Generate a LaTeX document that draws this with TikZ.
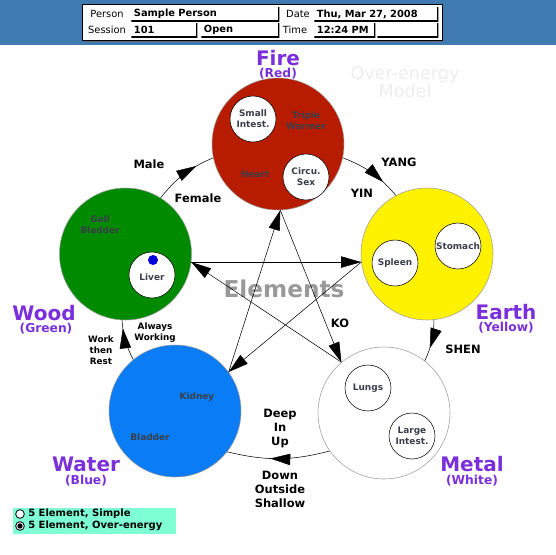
\documentclass[tikz,border=0pt]{standalone}
\usepackage{fontspec}
\setmainfont{DejaVu Sans}
\usepackage{tkz-euclide}
\usetikzlibrary{arrows.meta,decorations.markings}
\definecolor{headblue}{HTML}{3F7BB0}
\definecolor{firered}{HTML}{B81C00}
\definecolor{woodgreen}{HTML}{008A00}
\definecolor{waterblue}{HTML}{0A7CF5}
\definecolor{purpletxt}{HTML}{7A2FDA}
\definecolor{organtxt}{HTML}{3A3E48}
\definecolor{legendbg}{HTML}{7FFFD4}
\tikzset{
  elem/.style={circle,draw=gray!80,minimum size=99pt,inner sep=0pt},
  organ/.style={circle,draw=black,fill=white,minimum size=34.5pt,inner sep=0pt,align=center,
    text=organtxt,font=\bfseries\fontsize{6.7}{8.2}\selectfont},
  organtext/.style={align=center,text=organtxt,font=\bfseries\fontsize{6.7}{8.2}\selectfont},
  elemname/.style={text=purpletxt,font=\bfseries\fontsize{15}{15}\selectfont},
  elemcolor/.style={text=purpletxt,font=\bfseries\fontsize{9.2}{9.2}\selectfont},
  lbl/.style={align=center,font=\bfseries\fontsize{8.6}{10.5}\selectfont},
  smalllbl/.style={align=center,font=\bfseries\fontsize{6.6}{8.2}\selectfont},
  ctrl/.style={-{Triangle[length=15pt,width=8.5pt]}},
  flow/.style={decoration={markings,mark=at position #1 with {\arrow{Triangle[length=15pt,width=8.5pt]}}},
    postaction={decorate}},
  fld/.style={rectangle,fill=white,anchor=north west,minimum height=10.5pt,inner ysep=0pt,inner xsep=2pt,
    align=left,font=\bfseries\fontsize{7.4}{8}\selectfont,
    path picture={\draw[black,line width=1.6pt] (path picture bounding box.south west)
      -- (path picture bounding box.south east) -- (path picture bounding box.north east);}},
  fldname/.style={font=\fontsize{7.4}{8}\selectfont},
  radio/.style={circle,draw=black,fill=white,minimum size=6.5pt,inner sep=0pt,line width=0.6pt}
}
\begin{document}
\begin{tikzpicture}[x=0.75pt,y=-0.75pt]
    \useasboundingbox (0,0) rectangle (556,554);
    \fill[headblue] (0,0) rectangle (556,45);
    \fill[black!60] (85,6) rectangle (443,42);
    \node[draw=black,fill=white,anchor=north west,minimum width=270pt,minimum height=27pt,inner sep=0pt]
      (panel) at (82,4) {};
    \node[fldname] (personlbl) at (107,14) {Person};
    \node[fldname] (sessionlbl) at (107,30) {Session};
    \node[fldname] (datelbl) at (298,14) {Date};
    \node[fldname] (timelbl) at (295,30) {Time};
    \node[fld,text width=107pt] (person) at (131,7) {Sample Person};
    \node[fld,text width=45.5pt] (session) at (131,23) {101};
    \node[fld,text width=54.5pt] (state) at (201,23) {Open};
    \node[fld,text width=89pt] (date) at (314,7) {Thu, Mar 27, 2008};
    \node[fld,text width=41.75pt] (time) at (314,23) {12:24 PM};
    \node[fld,text width=41.75pt] (blank) at (377,23) {};
    \tkzDefPoint(278,144){F}
    \tkzDefPoint(427,254){E}
    \tkzDefPoint(384,413){M}
    \tkzDefPoint(175,411){W}
    \tkzDefPoint(125.5,254){G}
    \node[text=black!7,align=center,font=\fontsize{13.2}{13.5}\selectfont] (model) at (405,82) {Over-energy\\Model};
    \node[elem,fill=firered] (fire) at (F) {};
    \node[elem,fill=yellow] (earth) at (E) {};
    \node[elem,fill=white] (metal) at (M) {};
    \node[elem,fill=waterblue] (water) at (W) {};
    \node[elem,fill=woodgreen] (wood) at (G) {};
    \node[organ] (smallint) at (253,119) {Small\\Intest.};
    \node[organ] (circu) at (306,177) {Circu.\\Sex};
    \node[organtext] (triple) at (306,121) {Triple\\Warmer};
    \node[organtext] (heart) at (255,174) {Heart};
    \node[organ] (stomach) at (458,246) {Stomach};
    \node[organ] (spleen) at (395,263) {Spleen};
    \node[organ] (lungs) at (368,388) {Lungs};
    \node[organ] (largeint) at (412,436) {Large\\Intest.};
    \node[organ] (liver) at (152,275) {\\Liver};
    \node[circle,fill=blue!85!black,minimum size=7.5pt,inner sep=0pt] (dot) at (153,260) {};
    \node[organtext] (gall) at (100,225) {Gall\\Bladder};
    \node[organtext] (kidney) at (197,397) {Kidney};
    \node[organtext] (bladder) at (150,437) {Bladder};
    \node[text=black!40,font=\bfseries\fontsize{17.4}{17.4}\selectfont] (elements) at (284,289) {Elements};
    \draw[ctrl] (fire.272) -- (metal.130);
    \draw[ctrl] (metal.130) -- (wood.353);
    \draw[ctrl] (wood.353) -- (earth.187);
    \draw[ctrl] (earth.187) -- (water.36);
    \draw[ctrl] (water.36) -- (fire.272);
    \draw[flow=0.72] (wood.58) to[bend left=14] (fire.192);
    \draw[flow=0.72] (fire.348) to[bend left=14] (earth.118);
    \draw[flow=0.68] (earth.276) to[bend left=12] (metal.52);
    \draw[flow=0.58] (metal.215) to[bend left=14] (water.322);
    \draw[flow=0.8] (water.129) to[bend left=12] (wood.267);
    \node[elemname] (firename) at (278,58) {Fire};
    \node[elemcolor] (firecol) at (278,74) {(Red)};
    \node[elemname] (earthname) at (506,312) {Earth};
    \node[elemcolor] (earthcol) at (506,328) {(Yellow)};
    \node[elemname] (woodname) at (44,313) {Wood};
    \node[elemcolor] (woodcol) at (46,329) {(Green)};
    \node[elemname] (watername) at (86,464) {Water};
    \node[elemcolor] (watercol) at (86,481) {(Blue)};
    \node[elemname] (metalname) at (472,464) {Metal};
    \node[elemcolor] (metalcol) at (472,481) {(White)};
    \node[lbl] (male) at (149,164) {Male};
    \node[lbl] (female) at (198,198) {Female};
    \node[lbl] (yang) at (399,162) {YANG};
    \node[lbl] (yin) at (362,193) {YIN};
    \node[lbl] (shen) at (463,349) {SHEN};
    \node[lbl] (ko) at (340,323) {KO};
    \node[lbl] (deep) at (280,429) {Deep\\In\\Up};
    \node[lbl] (down) at (280,489) {Down\\Outside\\Shallow};
    \node[smalllbl] (always) at (155,333) {Always\\Working};
    \node[smalllbl] (work) at (101,350) {Work\\then\\Rest};
    \node[fill=legendbg,anchor=north west,minimum width=122.25pt,minimum height=19.5pt,inner sep=0pt]
      (legend) at (13,508) {};
    \node[radio] (simple) at (20,514) {};
    \node[radio] (over) at (20,526) {};
    \fill (over) circle (2pt);
    \node[anchor=west,inner xsep=0pt,font=\bfseries\fontsize{7.5}{8}\selectfont] (simpletxt) at (28,514) {5 Element, Simple};
    \node[anchor=west,inner xsep=0pt,font=\bfseries\fontsize{7.5}{8}\selectfont] (overtxt) at (28,526) {5 Element, Over-energy};
\end{tikzpicture}
\end{document}
